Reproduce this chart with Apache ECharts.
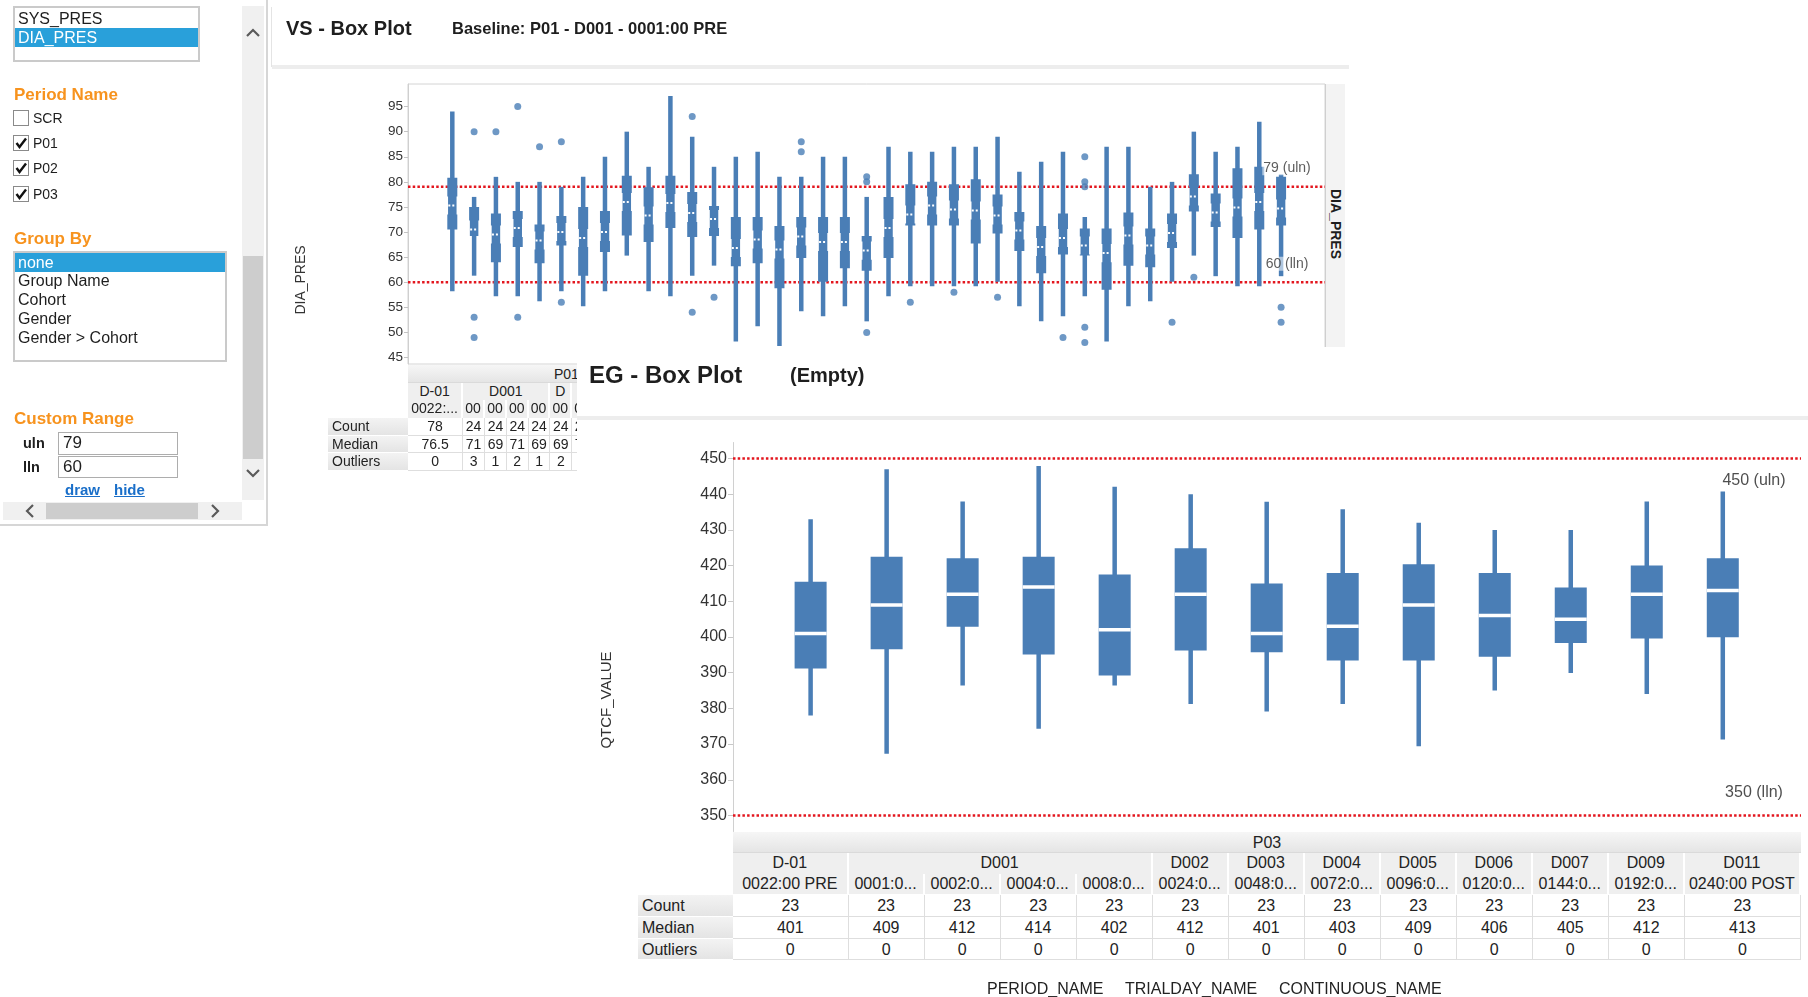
<!DOCTYPE html>
<html>
<head>
<meta charset="utf-8">
<title>VS / EG Box Plots</title>
<script src="https://cdn.jsdelivr.net/npm/echarts@6.0.0/dist/echarts.min.js"></script>
<style>
  html, body { margin:0; padding:0; background:#fff; }
  body { width:1808px; height:997px; position:relative; overflow:hidden; font-family:'Liberation Sans', Arial, sans-serif; color:#1e1e1e; }
  .a { position:absolute; }
  .lbl { position:absolute; white-space:nowrap; }
  .hdr { position:absolute; font-weight:bold; font-size:17px; line-height:20px; color:#f7931e; white-space:nowrap; }
  .list { position:absolute; border:2px solid #cacaca; background:#fff; box-sizing:border-box; }
  .item { position:absolute; left:0; right:0; height:19px; line-height:19px; font-size:16px; padding-left:3px; white-space:nowrap; }
  .item.sel { background:#29a0da; color:#fff; }
  .cb { position:absolute; width:16px; height:16px; box-sizing:border-box; border:1.5px solid #8a8a8a; background:#fff; }
  .cb svg { position:absolute; left:0; top:0; }
  .cbt { position:absolute; font-size:14px; line-height:16px; white-space:nowrap; }
  .inp { position:absolute; box-sizing:border-box; border:1px solid #adadad; font-size:17px; line-height:20px; padding-left:4px; background:#fff; }
  .lnk { position:absolute; font-weight:bold; font-size:15px; line-height:18px; color:#1a6fc9; text-decoration:underline; }
  .cell { position:absolute; box-sizing:border-box; overflow:hidden; white-space:nowrap; text-align:center; }
  #vsChart, #egChart { position:absolute; left:0; top:0; width:1808px; height:997px; }
  #egPanel { position:absolute; left:577px; top:347px; width:1231px; height:650px; background:#fff; overflow:hidden; z-index:5; }
  #egPage { position:absolute; left:-577px; top:-347px; width:1808px; height:997px; }
</style>
</head>
<body>

<!-- ===== VS box plot canvas ===== -->
<div id="vsChart" style="z-index:1"></div>

<!-- ===== filter side panel ===== -->
<div id="side" class="a" style="left:0;top:0;width:269px;height:527px;z-index:2;">
  <div class="a" style="left:266px;top:0;width:2px;height:526px;background:#d6d6d6"></div>
  <div class="a" style="left:0;top:524px;width:268px;height:2px;background:#d6d6d6"></div>

  <div class="list" style="left:13px;top:6px;width:187px;height:56px;">
    <div class="item" style="top:1px">SYS_PRES</div>
    <div class="item sel" style="top:20px">DIA_PRES</div>
  </div>

  <div class="hdr" style="left:14px;top:85px">Period Name</div>
  <div id="periodBoxes"></div>

  <div class="hdr" style="left:14px;top:229px">Group By</div>
  <div class="list" style="left:13px;top:251px;width:214px;height:111px;">
    <div class="item sel" style="top:0px">none</div>
    <div class="item" style="top:18px">Group Name</div>
    <div class="item" style="top:37px">Cohort</div>
    <div class="item" style="top:56px">Gender</div>
    <div class="item" style="top:75px">Gender &gt; Cohort</div>
  </div>

  <div class="hdr" style="left:14px;top:409px">Custom Range</div>
  <div class="lbl" style="left:23px;top:434px;font-weight:bold;font-size:14.5px;line-height:18px">uln</div>
  <div class="inp" id="ulnInput" style="left:58px;top:432px;width:120px;height:23px"></div>
  <div class="lbl" style="left:23px;top:458px;font-weight:bold;font-size:14.5px;line-height:18px">lln</div>
  <div class="inp" id="llnInput" style="left:58px;top:456px;width:120px;height:22px"></div>
  <div class="lnk" style="left:65px;top:481px">draw</div>
  <div class="lnk" style="left:114px;top:481px">hide</div>

  <!-- vertical scroll bar -->
  <div class="a" style="left:242px;top:6px;width:22px;height:494px;background:#f0f0f0"></div>
  <div class="a" style="left:243px;top:256px;width:20px;height:203px;background:#cdcdcd"></div>
  <svg class="a" style="left:245px;top:27px" width="16" height="12"><polyline points="2,9 8,3 14,9" fill="none" stroke="#5a5a5a" stroke-width="2.2"/></svg>
  <svg class="a" style="left:245px;top:467px" width="16" height="12"><polyline points="2,3 8,9 14,3" fill="none" stroke="#5a5a5a" stroke-width="2.2"/></svg>
  <!-- horizontal scroll bar -->
  <div class="a" style="left:3px;top:502px;width:239px;height:18px;background:#f0f0f0"></div>
  <div class="a" style="left:46px;top:503px;width:152px;height:16px;background:#cdcdcd"></div>
  <svg class="a" style="left:24px;top:503px" width="12" height="16"><polyline points="9,2 3,8 9,14" fill="none" stroke="#5a5a5a" stroke-width="2.2"/></svg>
  <svg class="a" style="left:209px;top:503px" width="12" height="16"><polyline points="3,2 9,8 3,14" fill="none" stroke="#5a5a5a" stroke-width="2.2"/></svg>
</div>

<!-- ===== VS header ===== -->
<div class="a" style="left:271px;top:7px;width:1px;height:60px;background:#e4e4e4;z-index:2"></div>
<div class="a" style="left:272px;top:65px;width:1077px;height:4px;background:#ededed;z-index:2"></div>
<div class="lbl" style="left:286px;top:16px;font-weight:bold;font-size:20px;line-height:24px;z-index:2">VS - Box Plot</div>
<div class="lbl" style="left:452px;top:18px;font-weight:bold;font-size:16.5px;line-height:20px;z-index:2">Baseline: P01 - D001 - 0001:00 PRE</div>

<!-- right-hand strip with the measure name -->
<div class="a" style="left:1325px;top:84px;width:20px;height:280px;background:#f3f3f3;border-left:1px solid #cfcfcf;box-sizing:border-box;z-index:2"></div>
<div class="lbl" style="left:1326px;top:186px;width:19px;height:76px;writing-mode:vertical-rl;font-weight:bold;font-size:14px;line-height:19px;text-align:center;z-index:2">DIA_PRES</div>

<!-- VS summary table -->
<div id="vsTable" class="a" style="left:0;top:0;z-index:2"></div>

<!-- ===== EG panel ===== -->
<div id="egPanel">
  <div id="egPage">
    <div id="egChart"></div>
    <div class="lbl" style="left:589px;top:361px;font-weight:bold;font-size:24px;line-height:28px">EG - Box Plot</div>
    <div class="lbl" style="left:790px;top:363px;font-weight:bold;font-size:20px;line-height:24px">(Empty)</div>
    <div class="a" style="left:577px;top:416px;width:1231px;height:4px;background:#ededed"></div>
    <div id="egTable" class="a" style="left:0;top:0"></div>
  </div>
</div>

<script>
// ---------------- shared look ----------------
const FONT = "'Liberation Sans', Arial, sans-serif";
const BOX_BLUE = '#4a7eb6';
const LIMIT_RED = '#e3161e';

// ---------------- side panel values ----------------
const periodNames = ['SCR', 'P01', 'P02', 'P03'];
const periodChecked = [false, true, true, true];

// ---------------- VS: DIA_PRES ----------------
const vsUln = 79;
const vsLln = 60;
const vsTicks = [45, 50, 55, 60, 65, 70, 75, 80, 85, 90, 95];
const vsLow  = [58.2, 61.3, 57.2, 57.2, 56.2, 58.2, 55.2, 58.2, 65.3, 58.2, 57.2, 61.3, 63.3, 48.2, 51.2, 47.3, 54.2, 53.2, 55.2, 52.2, 57.2, 59.2, 59.2, 59.2, 59.2, 60.1, 55.2, 52.2, 53.2, 57.2, 48.2, 55.2, 56.2, 60.1, 65.3, 61.2, 59.2, 59.2, 61.2];
const vsQ1   = [70.5, 69.2, 64.0, 67.0, 63.8, 67.3, 61.3, 66.0, 69.3, 68.0, 70.8, 69.0, 69.2, 63.2, 63.8, 58.8, 64.8, 60.1, 62.8, 62.3, 64.8, 71.3, 71.3, 71.3, 67.7, 69.7, 66.2, 61.8, 65.5, 65.3, 58.5, 63.3, 63.0, 66.8, 74.1, 71.0, 68.8, 70.5, 71.3];
const vsMean = [75.3, 70.5, 69.5, 70.8, 68.3, 70.0, 68.8, 70.0, 76.0, 73.3, 75.8, 73.8, 72.6, 66.8, 68.5, 66.5, 69.1, 68.0, 68.0, 66.3, 70.8, 73.5, 75.3, 74.5, 74.3, 73.3, 70.3, 67.0, 68.8, 67.3, 65.8, 69.3, 67.3, 69.8, 77.1, 73.9, 74.9, 76.0, 74.7];
const vsQ3   = [80.8, 75.0, 73.7, 74.2, 71.5, 73.2, 75.0, 74.2, 81.2, 78.9, 81.2, 78.0, 75.2, 73.0, 73.0, 71.2, 73.0, 73.0, 73.0, 69.2, 77.0, 79.5, 80.0, 79.5, 80.5, 77.5, 74.0, 71.2, 73.7, 70.7, 70.7, 73.9, 70.7, 73.7, 81.5, 77.7, 82.7, 83.0, 81.0];
const vsHigh = [94.0, 77.0, 81.0, 80.0, 80.0, 79.0, 81.0, 85.0, 90.0, 83.0, 97.1, 89.0, 83.0, 85.0, 86.0, 81.0, 81.0, 85.0, 85.0, 77.0, 87.0, 86.0, 86.0, 87.0, 87.0, 89.0, 82.0, 84.0, 86.0, 73.0, 87.0, 87.0, 79.0, 80.0, 90.0, 86.0, 87.0, 92.0, 81.5];
// [column index, value]
const vsOutliers = [[1, 90], [1, 53], [1, 49], [2, 90], [3, 95], [3, 53], [4, 87], [5, 88], [5, 56],
  [11, 93], [11, 54], [12, 57], [16, 88], [16, 86], [19, 81], [19, 80], [19, 50], [21, 56], [23, 58],
  [25, 57], [28, 49], [29, 85], [29, 80], [29, 79], [29, 51], [29, 48], [33, 52], [34, 61], [38, 55], [38, 52]];
// summary table columns shown in the narrow VS grid
const vsPeriodHeader = ['P01', 13];
const vsDayGroups = [['D-01', 1], ['D001', 4], ['D', 1], ['D', 1]];
const vsTimeLabels = ['0022:...', '00', '00', '00', '00', '00', '00'];
const vsCounts = [78, 24, 24, 24, 24, 24, 24];
const vsMedians = [76.5, 71, 69, 71, 69, 69, 70];

// ---------------- EG: QTCF_VALUE ----------------
const egUln = 450;
const egLln = 350;
const egTicks = [350, 360, 370, 380, 390, 400, 410, 420, 430, 440, 450];
const egDayGroups = [['D-01', 1], ['D001', 4], ['D002', 1], ['D003', 1], ['D004', 1], ['D005', 1], ['D006', 1], ['D007', 1], ['D009', 1], ['D011', 1]];
const egTimeLabels = ['0022:00 PRE', '0001:0...', '0002:0...', '0004:0...', '0008:0...', '0024:0...', '0048:0...', '0072:0...', '0096:0...', '0120:0...', '0144:0...', '0192:0...', '0240:00 POST'];
const egLow    = [378.0, 367.3, 386.4, 374.3, 386.4, 381.2, 379.1, 381.2, 369.4, 385.0, 389.9, 384.0, 371.3];
const egQ1     = [391.2, 396.6, 402.9, 395.1, 389.2, 396.2, 395.7, 393.4, 393.4, 394.5, 398.3, 399.6, 399.9];
const egMedian = [401, 409, 412, 414, 402, 412, 401, 403, 409, 406, 405, 412, 413];
const egQ3     = [415.5, 422.5, 422.1, 422.5, 417.5, 424.9, 415.0, 417.9, 420.4, 417.9, 413.9, 420.0, 422.1];
const egHigh   = [433.0, 447.0, 438.0, 447.9, 442.1, 440.0, 437.9, 435.8, 432.0, 430.0, 430.0, 438.0, 440.8];
const egCounts = [23, 23, 23, 23, 23, 23, 23, 23, 23, 23, 23, 23, 23];
const egOutliers = [];
const egHierarchyNames = ['PERIOD_NAME', 'TRIALDAY_NAME', 'CONTINUOUS_NAME'];

// ---------------- side panel widgets ----------------
(function buildSide() {
  const host = document.getElementById('periodBoxes');
  const ys = [110, 135, 160, 186];
  periodNames.forEach((name, i) => {
    const b = document.createElement('div');
    b.className = 'cb';
    b.style.left = '13px'; b.style.top = ys[i] + 'px';
    if (periodChecked[i]) {
      b.innerHTML = '<svg width="14" height="14"><polyline points="2.5,7 5.5,11 12,2.5" fill="none" stroke="#111" stroke-width="2.4"/></svg>';
    }
    host.appendChild(b);
    const t = document.createElement('div');
    t.className = 'cbt';
    t.style.left = '33px'; t.style.top = ys[i] + 'px';
    t.textContent = name;
    host.appendChild(t);
  });
  document.getElementById('ulnInput').textContent = vsUln;
  document.getElementById('llnInput').textContent = vsLln;
})();

// ---------------- box glyph ----------------
// data item: [category, low, q1, centre mark, q3, high]
function makeBoxRenderer(cfg) {
  return function (params, api) {
    const c = api.value(0);
    const pLow = api.coord([c, api.value(1)]);
    const pQ1 = api.coord([c, api.value(2)]);
    const pMid = api.coord([c, api.value(3)]);
    const pQ3 = api.coord([c, api.value(4)]);
    const pHigh = api.coord([c, api.value(5)]);
    const cx = pLow[0];
    const hw = cfg.box / 2;
    const children = [{
      type: 'rect',
      shape: { x: cx - cfg.whisker / 2, y: pHigh[1], width: cfg.whisker, height: pLow[1] - pHigh[1] },
      style: { fill: cfg.color }
    }];
    if (cfg.notch) {
      const nTop = Math.max(pQ3[1], api.coord([c, api.value(3) + cfg.notch])[1]);
      const nBot = Math.min(pQ1[1], api.coord([c, api.value(3) - cfg.notch])[1]);
      const nw = cfg.notchBox / 2;
      children.push({
        type: 'polygon',
        shape: { points: [
          [cx - hw, pQ3[1]], [cx + hw, pQ3[1]], [cx + hw, nTop], [cx + nw, nTop], [cx + nw, nBot], [cx + hw, nBot],
          [cx + hw, pQ1[1]], [cx - hw, pQ1[1]], [cx - hw, nBot], [cx - nw, nBot], [cx - nw, nTop], [cx - hw, nTop]
        ] },
        style: { fill: cfg.color }
      });
    } else {
      children.push({
        type: 'rect',
        shape: { x: cx - hw, y: pQ3[1], width: cfg.box, height: pQ1[1] - pQ3[1] },
        style: { fill: cfg.color }
      });
    }
    children.push({
      type: 'line',
      shape: { x1: cx - cfg.markLen / 2, y1: pMid[1], x2: cx + cfg.markLen / 2, y2: pMid[1] },
      style: { stroke: '#ffffff', lineWidth: cfg.markWidth, lineDash: cfg.markDash || null }
    });
    return { type: 'group', children };
  };
}

function limitLine(value, xAxisIndex, yAxisIndex) {
  return {
    type: 'line', xAxisIndex, yAxisIndex, silent: true, symbol: 'none', z: 3,
    data: [[0, value], [1, value]],
    lineStyle: { color: LIMIT_RED, width: 2.5, type: [2.5, 2.2], cap: 'butt' },
    animation: false
  };
}

// ---------------- VS chart ----------------
const VS = { frameL: 408, frameR: 1325, top: 84, bottom: 364, boxL: 441.4, band: 21.81 };
const vsN = vsLow.length;
const vsChart = echarts.init(document.getElementById('vsChart'), null, { width: 1808, height: 997 });
vsChart.setOption({
  animation: false,
  textStyle: { fontFamily: FONT },
  grid: [
    { left: VS.frameL, top: VS.top, width: VS.frameR - VS.frameL, height: VS.bottom - VS.top,
      show: true, borderColor: '#d4d4d4', borderWidth: 1, backgroundColor: 'transparent' },
    { left: VS.boxL, top: VS.top, width: VS.band * vsN, height: VS.bottom - VS.top }
  ],
  xAxis: [
    { gridIndex: 0, type: 'value', min: 0, max: 1, show: false },
    { gridIndex: 1, type: 'category', data: vsLow.map((_, i) => 'C' + (i + 1)), show: false }
  ],
  yAxis: [
    { gridIndex: 0, type: 'value', min: 43.7, max: 99.5,
      axisLine: { show: true, lineStyle: { color: '#cfcfcf' } },
      axisTick: { show: true, length: 4, lineStyle: { color: '#c4c4c4' }, customValues: vsTicks },
      axisLabel: { customValues: vsTicks, color: '#333', fontSize: 13.5, margin: 5, fontFamily: FONT },
      splitLine: { show: false } },
    { gridIndex: 1, type: 'value', min: 43.7, max: 99.5, show: false, splitLine: { show: false } }
  ],
  graphic: [{
    type: 'text', x: 301, y: 280, rotation: Math.PI / 2,
    style: { text: 'DIA_PRES', fontSize: 14, fontFamily: FONT, fill: '#333', align: 'center', verticalAlign: 'middle' }
  }],
  series: [
    limitLine(vsUln, 0, 0),
    limitLine(vsLln, 0, 0),
    {
      type: 'custom', xAxisIndex: 1, yAxisIndex: 1, z: 4,
      renderItem: makeBoxRenderer({ color: BOX_BLUE, whisker: 4.5, box: 10, notch: 1.8, notchBox: 8.5,
        markLen: 8, markWidth: 2, markDash: [2, 2] }),
      encode: { x: 0, y: [1, 2, 3, 4, 5] },
      data: vsLow.map((v, i) => [i, vsLow[i], vsQ1[i], vsMean[i], vsQ3[i], vsHigh[i]])
    },
    {
      type: 'scatter', xAxisIndex: 1, yAxisIndex: 1, z: 4, symbol: 'circle', symbolSize: 7,
      itemStyle: { color: BOX_BLUE }, data: vsOutliers
    },
    {
      type: 'scatter', xAxisIndex: 0, yAxisIndex: 0, z: 8, symbolSize: 1,
      itemStyle: { color: 'rgba(0,0,0,0)' },
      data: [[0.9586, vsUln, vsUln + ' (uln)'], [0.9586, vsLln, vsLln + ' (lln)']],
      label: { show: true, position: 'top', distance: 11, formatter: p => p.data[2],
        fontSize: 14, fontFamily: FONT, color: '#333', backgroundColor: 'rgba(255,255,255,0.7)', padding: [0, 1] }
    }
  ]
});

// ---------------- summary tables (HTML, aligned to the category bands) ----------------
function colEdges(frameL, boxL, band, n, frameR) {
  const e = [frameL];
  for (let k = 1; k < n; k++) e.push(boxL + k * band);
  e.push(frameR);
  return e;
}

function addCell(host, x0, x1, y, h, text, css) {
  const d = document.createElement('div');
  d.className = 'cell';
  d.style.left = x0 + 'px';
  d.style.top = y + 'px';
  d.style.width = (x1 - x0) + 'px';
  d.style.height = h + 'px';
  d.style.lineHeight = h + 'px';
  Object.assign(d.style, css || {});
  d.textContent = text;
  host.appendChild(d);
  return d;
}

function buildTable(hostId, t) {
  const host = document.getElementById(hostId);
  const e = t.edges;
  const hdrBg = 'linear-gradient(#f6f6f6,#e5e5e5)';
  const sub = { background: '#efefef', borderRight: '2px solid #ffffff', fontSize: t.font + 'px', color: '#222' };
  // period row
  addCell(host, e[0], t.right, t.rows[0][0], t.rows[0][1], '', { background: hdrBg, borderBottom: '1px solid #dadada' });
  addCell(host, e[0], e[t.period[1]], t.rows[0][0], t.rows[0][1], t.period[0],
    { fontSize: t.font + 'px', color: '#222' });
  // day row (grouped)
  let c = 0;
  t.days.forEach(([name, span]) => {
    addCell(host, e[c], e[c + span], t.rows[1][0], t.rows[1][1], name, sub);
    c += span;
  });
  // time row
  t.times.forEach((name, i) => addCell(host, e[i], e[i + 1], t.rows[2][0], t.rows[2][1], name, sub));
  // statistic rows
  const statNames = ['Count', 'Median', 'Outliers'];
  const statVals = [t.counts, t.medians, t.outliers];
  statNames.forEach((nm, r) => {
    const [y, h] = t.rows[3 + r];
    addCell(host, t.labelL, e[0], y, h, nm, { background: 'linear-gradient(#f3f3f3,#e4e4e4)', textAlign: 'left',
      paddingLeft: '4px', fontSize: t.font + 'px', color: '#222', borderBottom: '1px solid #ffffff' });
    statVals[r].forEach((v, i) => addCell(host, e[i], e[i + 1], y, h, String(v),
      { background: '#fff', borderRight: '1px solid #dedede', borderBottom: '1px solid #dedede', fontSize: t.font + 'px', color: '#222' }));
  });
}

function outlierCounts(list, n) {
  const out = new Array(n).fill(0);
  list.forEach(([i]) => { out[i] += 1; });
  return out;
}

const vsEdges = colEdges(VS.frameL, VS.boxL, VS.band, vsN, VS.frameR);
buildTable('vsTable', {
  edges: vsEdges, right: VS.frameR, labelL: 328, font: 14,
  rows: [[365, 18], [383, 17], [400, 17.5], [418, 17.5], [435.5, 17.5], [453, 17.5]],
  period: vsPeriodHeader, days: vsDayGroups, times: vsTimeLabels,
  counts: vsCounts, medians: vsMedians,
  outliers: outlierCounts(vsOutliers, vsN).slice(0, vsCounts.length)
});

// ---------------- EG chart ----------------
const EG = { frameL: 733, frameR: 1801, top: 442.5, bottom: 831.5, boxL: 772.6, band: 76.015 };
const egN = egLow.length;
const egChart = echarts.init(document.getElementById('egChart'), null, { width: 1808, height: 997 });
egChart.setOption({
  animation: false,
  textStyle: { fontFamily: FONT },
  grid: [
    { left: EG.frameL, top: EG.top, width: EG.frameR - EG.frameL, height: EG.bottom - EG.top },
    { left: EG.boxL, top: EG.top, width: EG.band * egN, height: EG.bottom - EG.top }
  ],
  xAxis: [
    { gridIndex: 0, type: 'value', min: 0, max: 1, show: false },
    { gridIndex: 1, type: 'category', data: egTimeLabels, show: false }
  ],
  yAxis: [
    { gridIndex: 0, type: 'value', min: 345.5, max: 454.5,
      axisLine: { show: true, lineStyle: { color: '#d0d0d0' } },
      axisTick: { show: true, length: 5, lineStyle: { color: '#c8c8c8' }, customValues: egTicks },
      axisLabel: { customValues: egTicks, color: '#333', fontSize: 16, margin: 6, fontFamily: FONT },
      splitLine: { show: false } },
    { gridIndex: 1, type: 'value', min: 345.5, max: 454.5, show: false, splitLine: { show: false } }
  ],
  graphic: [
    { type: 'text', x: 607, y: 700, rotation: Math.PI / 2,
      style: { text: 'QTCF_VALUE', fontSize: 15, fontFamily: FONT, fill: '#333', align: 'center', verticalAlign: 'middle' } }
  ].concat(egHierarchyNames.map((nm, i) => ({
    type: 'text', x: [987, 1125, 1279][i], y: 990,
    style: { text: nm, fontSize: 16, fontFamily: FONT, fill: '#222', align: 'left', verticalAlign: 'middle' }
  }))),
  series: [
    limitLine(egUln, 0, 0),
    limitLine(egLln, 0, 0),
    {
      type: 'custom', xAxisIndex: 1, yAxisIndex: 1, z: 4,
      renderItem: makeBoxRenderer({ color: BOX_BLUE, whisker: 4.5, box: 32, markLen: 32, markWidth: 3.5 }),
      encode: { x: 0, y: [1, 2, 3, 4, 5] },
      data: egLow.map((v, i) => [i, egLow[i], egQ1[i], egMedian[i], egQ3[i], egHigh[i]])
    },
    {
      // captions for the limit lines: below the upper one, above the lower one
      type: 'scatter', xAxisIndex: 0, yAxisIndex: 0, z: 8, symbolSize: 1,
      itemStyle: { color: 'rgba(0,0,0,0)' },
      data: [
        { value: [0.956, egUln, egUln + ' (uln)'], label: { position: 'bottom' } },
        { value: [0.956, egLln, egLln + ' (lln)'], label: { position: 'top' } }
      ],
      label: { show: true, distance: 14, formatter: p => p.value[2], fontSize: 16, fontFamily: FONT, color: '#222' }
    }
  ]
});

const egEdges = colEdges(EG.frameL, EG.boxL, EG.band, egN, EG.frameR);
buildTable('egTable', {
  edges: egEdges, right: EG.frameR, labelL: 638, font: 16,
  rows: [[832, 21], [853, 20.5], [873.5, 20.5], [894.5, 22], [916.5, 22], [938.5, 21.5]],
  period: ['P03', egN], days: egDayGroups, times: egTimeLabels,
  counts: egCounts, medians: egMedian, outliers: outlierCounts(egOutliers, egN)
});
</script>
</body>
</html>
